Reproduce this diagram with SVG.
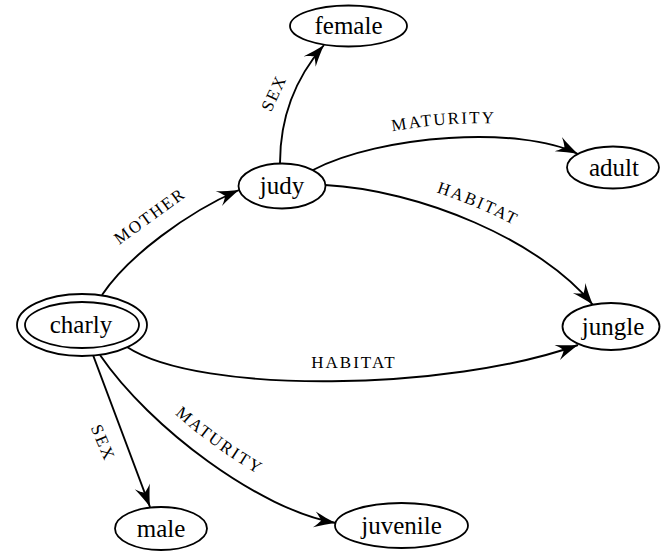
<svg xmlns="http://www.w3.org/2000/svg" width="661" height="551" viewBox="0 0 661 551">
<style>
.node ellipse{fill:#fff;stroke:#000;stroke-width:1.8}
.node text{font-size:25px;fill:#000;text-anchor:middle}
.edge{fill:none;stroke:#000;stroke-width:1.9;marker-end:url(#arr)}
.lbl{font-size:17px;letter-spacing:2px;fill:#000;text-anchor:middle}
.dbl{fill:#fff;stroke:#000;stroke-width:4}
</style>
<defs>
<marker id="arr" viewBox="-23 -10 25 20" markerWidth="25" markerHeight="20" refX="0" refY="0" orient="auto" markerUnits="userSpaceOnUse">
<path d="M0,0 C-7,-2 -15,-5 -22,-8 C-17,-3.5 -16,-1 -15,0 C-16,1 -17,3.5 -22,8 C-15,5 -7,2 0,0 Z" fill="#000"/>
</marker>
<path id="lp-mat1" d="M306.5,157.6 C376.5,121.5 522.5,111.2 583.9,139.3"/>
<path id="lp-hab1" d="M326.9,170 C423.5,176 549,228 603.6,292.9"/>
<path id="lp-mat2" d="M118.9,351.9 C163.5,417.5 267.5,494 336.9,504.2"/>
</defs>
<rect width="661" height="551" fill="#fff"/>
<g id="edges">
<path class="edge" d="M102,295 C128,256 188,212 239,190"/>
<path class="edge" d="M280,163 C280,115 298,75 324,45"/>
<path class="edge" d="M313,170 C380,135 520,125 578,154"/>
<path class="edge" d="M325,185 C420,190 540,240 593,305"/>
<path class="edge" d="M127,347 C200,395 450,391 578,345"/>
<path class="edge" d="M93,355 L150,507"/>
<path class="edge" d="M100,355 C150,428 260,510 336,523"/>
</g>
<g id="labels" font-family="'Liberation Serif', 'DejaVu Serif', serif">
<text class="lbl" transform="translate(150,216) rotate(-36)" dominant-baseline="central">MOTHER</text>
<text class="lbl" transform="translate(274,93) rotate(-65)" dominant-baseline="central">SEX</text>
<text class="lbl"><textPath href="#lp-mat1" startOffset="50%">MATURITY</textPath></text>
<text class="lbl"><textPath href="#lp-hab1" startOffset="50%">HABITAT</textPath></text>
<text class="lbl" x="354" y="368">HABITAT</text>
<text class="lbl" transform="translate(103,443) rotate(67)" dominant-baseline="central">SEX</text>
<text class="lbl"><textPath href="#lp-mat2" startOffset="50%">MATURITY</textPath></text>
</g>
<g id="nodes" font-family="'Liberation Serif', 'DejaVu Serif', serif">
<g id="node-charly" class="node">
<ellipse class="dbl" cx="82" cy="325" rx="65" ry="31"/>
<ellipse class="dbl" cx="82" cy="325" rx="57" ry="23"/>
<text x="81" y="333">charly</text>
</g>
<g id="node-judy" class="node">
<ellipse cx="282" cy="186" rx="43.5" ry="22.5"/>
<text x="282" y="194">judy</text>
</g>
<g id="node-female" class="node">
<ellipse cx="348.5" cy="26" rx="58.5" ry="20.5"/>
<text x="348.5" y="34">female</text>
</g>
<g id="node-adult" class="node">
<ellipse cx="613" cy="167.5" rx="46" ry="21"/>
<text x="614" y="175.5">adult</text>
</g>
<g id="node-jungle" class="node">
<ellipse cx="611" cy="326.5" rx="48.5" ry="23.5"/>
<text x="613" y="334.5">jungle</text>
</g>
<g id="node-male" class="node">
<ellipse cx="161" cy="528.5" rx="46" ry="21.5"/>
<text x="161" y="536.5">male</text>
</g>
<g id="node-juvenile" class="node">
<ellipse cx="401.5" cy="525.5" rx="66.5" ry="22.5"/>
<text x="401.5" y="533.5">juvenile</text>
</g>
</g>
</svg>
